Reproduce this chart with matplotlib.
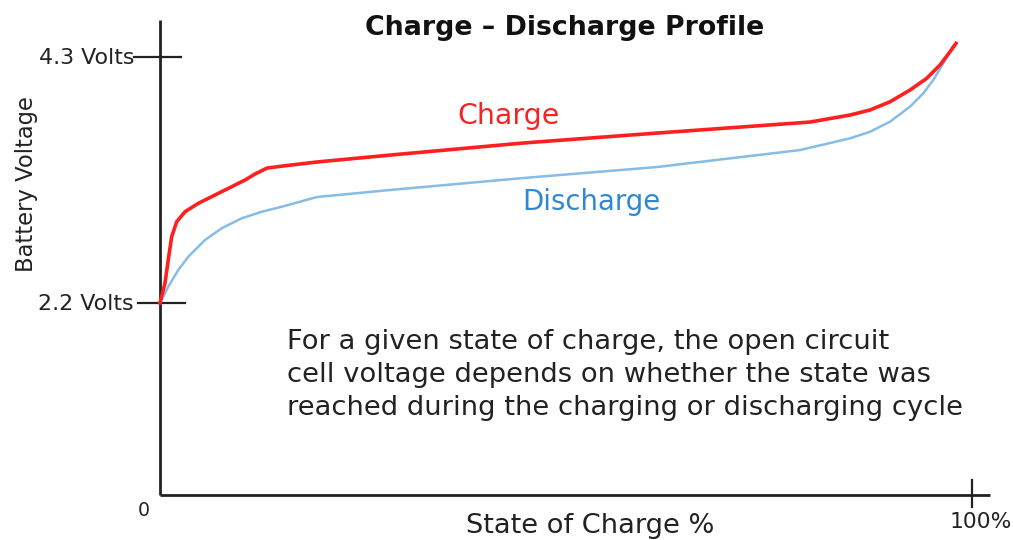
import matplotlib
matplotlib.use('Agg')
import matplotlib.pyplot as plt

# values
soc_charge = [0.0, 0.62, 1.02, 1.44, 2.06, 3.08, 4.72, 6.77, 8.83, 10.47, 11.70, 13.18, 15.15,
              19.33, 28.33, 44.70, 61.21, 80.05, 84.98, 87.44, 89.90, 92.36, 94.42, 96.06,
              97.29, 98.03]
v_charge = [2.200, 2.371, 2.567, 2.766, 2.894, 2.979, 3.051, 3.122, 3.193, 3.250, 3.301, 3.352,
            3.370, 3.404, 3.463, 3.566, 3.651, 3.745, 3.805, 3.848, 3.918, 4.018, 4.118, 4.232,
            4.345, 4.417]

soc_discharge = [0.0, 1.02, 2.25, 3.49, 5.54, 7.60, 10.06, 12.52, 14.99, 19.33, 28.33, 44.70,
                 61.21, 78.82, 84.98, 87.44, 89.90, 92.36, 94.00, 95.23, 96.47, 97.50, 97.80]
v_discharge = [2.200, 2.339, 2.482, 2.595, 2.738, 2.838, 2.923, 2.979, 3.022, 3.105, 3.165, 3.267,
               3.361, 3.506, 3.606, 3.662, 3.748, 3.876, 3.990, 4.104, 4.246, 4.374, 4.400]

volt_ticks = [2.2, 4.3]
volt_labels = ['2.2 Volts', '4.3 Volts']

W, H = 1013, 540
plt.rcParams['font.family'] = ['DejaVu Sans']

fig = plt.figure(figsize=(W / 100, H / 100), dpi=100)
ax = fig.add_axes([0, 0, 1, 1])
ax.set_xlim(-19.70, 105.05)
ax.set_ylim(0.177, 4.787)
ax.axis('off')

ink = '#222222'
red = '#ff1f1f'
blue = '#86bce6'

# hand-drawn style axes
ax.plot([0, 0], [0.561, 4.62], color=ink, lw=2, solid_capstyle='butt')
ax.plot([0, 102.2], [0.561, 0.561], color=ink, lw=2, solid_capstyle='butt')
ax.plot([-3.2, 2.6], [4.3, 4.3], color=ink, lw=1.6)
ax.plot([-2.7, 3.1], [2.2, 2.2], color=ink, lw=1.6)
ax.plot([100, 100], [0.459, 0.689], color=ink, lw=1.6)

ax.plot(soc_discharge, v_discharge, color=blue, lw=1.8, solid_joinstyle='round')
ax.plot(soc_charge, v_charge, color=red, lw=2.6, solid_joinstyle='round')


def place(px, py, s, width=None, height=None, **kw):
    t = fig.text(px / W, 1 - py / H, s, **kw)
    r = fig.canvas.get_renderer()
    bb = t.get_window_extent(r)
    if width:
        t.set_fontsize(t.get_fontsize() * width / bb.width)
    elif height:
        t.set_fontsize(t.get_fontsize() * height / bb.height)
    return t


place(565, 28, 'Charge – Discharge Profile', width=400, ha='center', va='center',
      fontweight='bold', color='#111111')
for v, lab in zip(volt_ticks, volt_labels):
    py = 303 - 117.14 * (v - 2.2)
    place(134, py + 1, lab, width=95, ha='right', va='center', color=ink)
place(27, 184, 'Battery Voltage', height=177, ha='center', va='center', rotation=90, color=ink)
place(508, 116, 'Charge', width=102, ha='center', va='center', color='#f22424')
place(591, 202, 'Discharge', width=138, ha='center', va='center', color='#2f88d2')
place(144, 511, '0', width=12, ha='center', va='center', color=ink)
place(981, 522, '100%', width=62, ha='center', va='center', color=ink)
place(590, 526, 'State of Charge %', width=248, ha='center', va='center', color=ink)

note = ['For a given state of charge, the open circuit',
        'cell voltage depends on whether the state was',
        'reached during the charging or discharging cycle']
t3 = place(287, 408, note[2], width=673, ha='left', va='center', color=ink)
fs = t3.get_fontsize()
fig.text(287 / W, 1 - 342 / H, note[0], ha='left', va='center', color=ink, fontsize=fs)
fig.text(287 / W, 1 - 375 / H, note[1], ha='left', va='center', color=ink, fontsize=fs)

fig.savefig('out.png', dpi=100)
